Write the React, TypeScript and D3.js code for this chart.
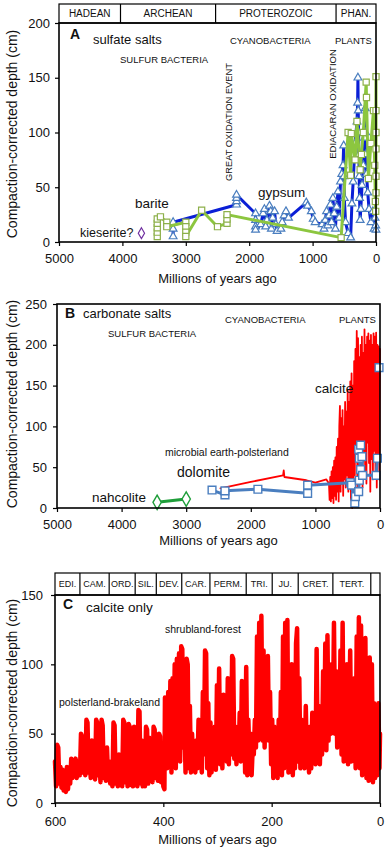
import React, { useEffect, useRef } from 'react';
import * as d3 from 'd3';

type Pt = [number, number];

const WIDTH = 387;
const HEIGHT = 850;
const FONT = '"Liberation Sans", Arial, sans-serif';

// Panel A: sulfate salts (age Ma, depth cm)
const eonNames = ['HADEAN', 'ARCHEAN', 'PROTEROZOIC', 'PHAN.'];
const eonBounds = [5000, 4030, 2530, 630, 0];
const deepTimeTicks = [5000, 4000, 3000, 2000, 1000, 0];
const ticksA = [0, 50, 100, 150, 200];

const gypsum: Pt[] = [
  [3200, 5], [3200, 12], [3200, 18],
  [2200, 34], [2200, 37], [2200, 40], [2200, 43],
  [1900, 26], [1900, 20], [1900, 14], [1900, 11],
  [1820, 16], [1780, 26], [1760, 30], [1740, 14], [1720, 20], [1680, 33], [1660, 28],
  [1650, 12], [1630, 22], [1600, 28], [1580, 16], [1560, 10], [1500, 12], [1480, 18],
  [1450, 24], [1420, 28], [1380, 22],
  [1100, 36], [1080, 33], [1020, 28], [990, 21], [960, 18],
  [850, 16], [820, 12], [800, 20], [780, 28], [760, 15], [740, 24], [720, 34], [700, 18],
  [680, 40], [660, 26], [640, 12], [620, 32], [600, 46], [580, 22], [560, 55], [540, 62],
  [520, 70], [510, 88], [505, 60], [500, 40], [480, 18], [440, 8], [400, 4], [380, 35],
  [360, 55], [330, 90], [300, 110], [290, 127], [285, 150], [280, 120], [275, 100],
  [270, 80], [265, 60], [260, 40], [250, 20], [240, 30], [220, 52], [200, 70], [180, 95],
  [170, 122], [165, 100], [160, 80], [150, 62], [130, 45], [110, 30], [80, 18], [50, 28],
  [30, 12], [15, 22], [5, 15], [0, 11]
];

const sulfate: Pt[] = [
  [3450, 5], [3450, 9], [3450, 13], [3450, 17], [3450, 21], [3400, 23], [3300, 18], [3300, 14],
  [3000, 18], [3000, 14], [3000, 9], [3000, 5], [2750, 29], [2500, 14], [2350, 17], [2350, 21],
  [2350, 25], [550, 4], [440, 100], [400, 61], [390, 99], [330, 75], [300, 110], [250, 66],
  [230, 80], [200, 100], [155, 146], [150, 132], [120, 58], [80, 90], [40, 120], [20, 70],
  [10, 37], [5, 28], [0, 151], [0, 120], [0, 100], [0, 85], [0, 60], [0, 45]
];

const kieserite: Pt[] = [[3700, 8]];

// Panel B: carbonate salts
const ticksB = [0, 50, 100, 150, 200, 250];
const nahcolite: Pt[] = [[3450, 7], [3000, 11]];
const dolomite: Pt[] = [
  [2600, 22], [2400, 16], [2400, 21], [1890, 23], [1120, 18], [1120, 28], [460, 31], [440, 28],
  [390, 6], [380, 14], [330, 20], [320, 34], [300, 47], [320, 61], [330, 72], [300, 77],
  [280, 63], [270, 40], [60, 40], [40, 61]
];
const dolomiteOutliers: Pt[] = [[15, 172]];
const calciteB: Pt[] = [
  [2470, 24], [2000, 32], [1500, 40], [1490, 46], [1480, 38], [1140, 34], [1000, 31], [830, 35],
  [790, 30], [780, 10], [770, 38], [760, 8], [750, 45], [740, 12], [730, 50], [720, 6], [710, 58],
  [700, 15], [690, 62], [680, 10], [670, 75], [660, 20], [650, 85], [640, 8], [630, 100],
  [620, 125], [610, 20], [600, 110], [590, 30], [580, 120], [570, 15], [560, 100], [550, 35],
  [540, 130], [530, 25], [520, 118], [510, 40], [500, 145], [490, 20], [480, 130], [470, 30],
  [460, 155], [450, 10], [440, 165], [430, 0], [420, 150], [410, 15], [400, 180], [390, 40],
  [380, 195], [370, 60], [360, 217], [350, 20], [340, 208], [330, 50], [320, 185], [310, 35],
  [300, 200], [290, 60], [280, 210], [270, 25], [260, 190], [250, 70], [240, 219], [230, 45],
  [220, 200], [210, 30], [200, 210], [190, 80], [180, 214], [170, 55], [160, 205], [150, 20],
  [140, 212], [130, 60], [120, 200], [110, 35], [100, 214], [90, 70], [80, 210], [70, 45],
  [60, 215], [50, 25], [40, 200], [30, 60], [20, 198], [10, 35], [0, 195]
];

// Panel C: calcite only, Phanerozoic
const periodNames = ['EDI.', 'CAM.', 'ORD.', 'SIL.', 'DEV.', 'CAR.', 'PERM.', 'TRI.', 'JU.', 'CRET.', 'TERT.', ''];
const periodBounds = [600, 554, 500, 452, 413, 366, 314, 247, 199, 151, 87, 17, 0];
const phanTicks = [600, 400, 200, 0];
const ticksC = [0, 50, 100, 150];
const calciteC: Pt[] = [
  [600, 30], [598, 12], [596, 42], [594, 40], [592, 14], [590, 26], [588, 11], [586, 24], [584, 9],
  [582, 22], [580, 8], [578, 26], [576, 10], [574, 24], [572, 14], [570, 32], [568, 18], [566, 30],
  [564, 20], [562, 32], [560, 18], [556, 30], [554, 20], [552, 50], [550, 48], [548, 22], [546, 32],
  [544, 20], [542, 60], [540, 58], [538, 22], [536, 30], [534, 18], [532, 45], [530, 20], [528, 28],
  [526, 17], [524, 60], [522, 58], [520, 20], [518, 30], [516, 15], [514, 60], [512, 56], [510, 18],
  [508, 28], [506, 16], [504, 40], [502, 18], [500, 30], [498, 14], [496, 28], [494, 12], [492, 58],
  [490, 56], [488, 14], [486, 30], [484, 12], [482, 35], [480, 14], [478, 28], [476, 12], [474, 60],
  [472, 58], [470, 15], [468, 30], [466, 12], [464, 57], [462, 55], [460, 13], [458, 38], [456, 12],
  [454, 55], [452, 14], [450, 28], [448, 12], [446, 67], [444, 66], [442, 14], [440, 45], [438, 12],
  [436, 30], [434, 12], [432, 55], [430, 53], [428, 14], [426, 47], [424, 16], [422, 30], [420, 15],
  [418, 55], [416, 53], [414, 18], [412, 30], [410, 16], [408, 50], [406, 48], [404, 15], [402, 28],
  [400, 12], [398, 10], [397, 76], [395, 75], [393, 25], [391, 80], [389, 30], [387, 88], [385, 22],
  [383, 90], [381, 35], [379, 100], [377, 25], [375, 104], [373, 40], [371, 108], [369, 30],
  [367, 113], [365, 111], [363, 40], [361, 60], [359, 22], [357, 104], [355, 100], [353, 25],
  [351, 70], [349, 22], [347, 50], [345, 30], [343, 40], [341, 22], [339, 45], [337, 25], [335, 60],
  [333, 30], [331, 40], [329, 22], [327, 80], [325, 35], [323, 110], [321, 108], [319, 25],
  [317, 72], [315, 20], [313, 58], [311, 22], [309, 40], [307, 25], [305, 55], [303, 24], [301, 85],
  [299, 30], [297, 97], [295, 28], [293, 65], [291, 25], [289, 78], [287, 40], [285, 55], [283, 30],
  [281, 90], [279, 28], [277, 70], [275, 35], [273, 106], [271, 104], [269, 32], [267, 55],
  [265, 28], [263, 45], [261, 32], [259, 65], [257, 30], [255, 88], [253, 35], [251, 80], [249, 22],
  [247, 98], [245, 20], [243, 60], [241, 30], [239, 50], [237, 20], [235, 40], [233, 35], [231, 60],
  [229, 40], [227, 120], [225, 45], [223, 130], [221, 50], [219, 135], [217, 45], [215, 110],
  [213, 40], [211, 90], [209, 50], [207, 106], [205, 45], [203, 80], [201, 28], [199, 60], [197, 18],
  [195, 55], [193, 25], [191, 45], [189, 18], [187, 60], [185, 25], [183, 80], [181, 20], [179, 120],
  [177, 25], [175, 130], [173, 30], [171, 132], [169, 22], [167, 90], [165, 25], [163, 100],
  [161, 20], [159, 50], [157, 25], [155, 115], [153, 126], [151, 30], [149, 90], [147, 25],
  [145, 60], [143, 35], [141, 50], [139, 25], [137, 70], [135, 30], [133, 45], [131, 22], [129, 55],
  [127, 25], [125, 65], [123, 30], [121, 50], [119, 28], [117, 111], [115, 30], [113, 70], [111, 28],
  [109, 60], [107, 35], [105, 95], [103, 40], [101, 115], [99, 38], [97, 121], [95, 45], [93, 85],
  [91, 50], [89, 100], [87, 55], [85, 130], [83, 50], [81, 95], [79, 40], [77, 70], [75, 45],
  [73, 110], [71, 35], [69, 130], [67, 30], [65, 80], [63, 35], [61, 100], [59, 28], [57, 60],
  [55, 110], [53, 30], [51, 70], [49, 35], [47, 90], [45, 25], [43, 120], [41, 30], [39, 134],
  [37, 25], [35, 128], [33, 20], [31, 105], [29, 30], [27, 119], [25, 18], [23, 60], [21, 16],
  [19, 105], [17, 20], [15, 100], [13, 15], [11, 72], [9, 18], [7, 70], [5, 20], [3, 72], [1, 25],
  [0, 50]
];

type Box = { left: number; right: number; top: number; bottom: number };

function drawFrame(svg: any, box: Box, xDom: number[], yDom: number[], xTicks: number[], yTicks: number[], padX: number, padY: number, titleY: number, ylabelY: number) {
  const x = d3.scaleLinear().domain(xDom).range([box.left, box.right]);
  const y = d3.scaleLinear().domain(yDom).range([box.bottom, box.top]);

  const ax = svg.append('g')
    .attr('transform', `translate(0,${box.bottom})`)
    .call(d3.axisBottom(x).tickValues(xTicks).tickSize(4).tickSizeOuter(0).tickPadding(padX).tickFormat(d3.format('d')));
  const ay = svg.append('g')
    .attr('transform', `translate(${box.left},0)`)
    .call(d3.axisLeft(y).tickValues(yTicks).tickSize(4).tickSizeOuter(0).tickPadding(padY));
  [ax, ay].forEach(a => {
    a.attr('font-size', 13).attr('font-family', FONT);
    a.selectAll('text').attr('fill', '#111');
    a.select('.domain').remove();
    a.selectAll('line').attr('stroke', '#000').attr('stroke-width', 1.2);
  });

  svg.append('text')
    .attr('x', (box.left + box.right) / 2)
    .attr('y', titleY)
    .attr('text-anchor', 'middle')
    .attr('font-family', FONT)
    .attr('font-size', 13)
    .attr('fill', '#111')
    .text('Millions of years ago');

  svg.append('text')
    .attr('transform', `translate(16.5,${ylabelY}) rotate(-90)`)
    .attr('text-anchor', 'middle')
    .attr('font-family', FONT)
    .attr('font-size', 14)
    .attr('fill', '#111')
    .text('Compaction-corrected depth (cm)');

  return { x, y };
}

function drawBorder(svg: any, box: Box) {
  svg.append('rect')
    .attr('x', box.left).attr('y', box.top)
    .attr('width', box.right - box.left).attr('height', box.bottom - box.top)
    .attr('fill', 'none').attr('stroke', '#000').attr('stroke-width', 1.6);
}

function drawHeader(svg: any, x: any, top: number, bottom: number, bounds: number[], names: string[], size: number) {
  const [l, r] = x.range();
  svg.append('rect')
    .attr('x', l).attr('y', top).attr('width', r - l).attr('height', bottom - top)
    .attr('fill', 'none').attr('stroke', '#000').attr('stroke-width', 1.2);
  svg.selectAll(null)
    .data(bounds.slice(1, -1))
    .enter()
    .append('line')
    .attr('x1', (d: number) => x(d)).attr('x2', (d: number) => x(d))
    .attr('y1', top).attr('y2', bottom)
    .attr('stroke', '#000').attr('stroke-width', 1.2);
  svg.selectAll(null)
    .data(names)
    .enter()
    .append('text')
    .attr('x', (d: string, i: number) => (x(bounds[i]) + x(bounds[i + 1])) / 2)
    .attr('y', (top + bottom) / 2 + size * 0.36)
    .attr('text-anchor', 'middle')
    .attr('font-family', FONT)
    .attr('font-size', size)
    .attr('fill', '#111')
    .text((d: string) => d);
}

function label(svg: any, xp: number, yp: number, txt: string, size: number, bold = false, rotate = false) {
  const t = svg.append('text')
    .attr('font-family', FONT)
    .attr('font-size', size)
    .attr('font-weight', bold ? 'bold' : 'normal')
    .attr('fill', '#111')
    .text(txt);
  if (rotate) {
    t.attr('transform', `translate(${xp},${yp}) rotate(-90)`).attr('text-anchor', 'middle');
  } else {
    t.attr('x', xp).attr('y', yp);
  }
}

function markers(svg: any, data: Pt[], x: any, y: any, type: any, size: number, stroke: string, sw = 1.2) {
  const sym = d3.symbol().type(type).size(size);
  svg.selectAll(null)
    .data(data)
    .enter()
    .append('path')
    .attr('d', sym as any)
    .attr('transform', (d: Pt) => `translate(${x(d[0])},${y(d[1])})`)
    .attr('fill', '#fff')
    .attr('stroke', stroke)
    .attr('stroke-width', sw);
}

function line(svg: any, data: Pt[], x: any, y: any, color: string, width: number) {
  const gen = d3.line<Pt>().x(d => x(d[0])).y(d => y(d[1]));
  svg.append('path')
    .attr('d', gen(data))
    .attr('fill', 'none')
    .attr('stroke', color)
    .attr('stroke-width', width)
    .attr('stroke-linejoin', 'round')
    .attr('stroke-linecap', 'round');
}

const App = () => {
  const svgRef = useRef<SVGSVGElement>(null);

  useEffect(() => {
    const svg = d3.select(svgRef.current);
    svg.selectAll('*').remove();

    // ---- Panel A ----
    const boxA = { left: 59, right: 376, top: 23, bottom: 242 };
    const A = drawFrame(svg, boxA, [5000, 0], [0, 200], deepTimeTicks, ticksA, 8, 5, 283, 134);
    drawHeader(svg, A.x, 4, 23, eonBounds, eonNames, 10);
    line(svg, gypsum, A.x, A.y, '#0a1fd6', 3);
    markers(svg, gypsum, A.x, A.y, d3.symbolTriangle, 26, '#4a7ebf');
    line(svg, sulfate, A.x, A.y, '#8cc63f', 3);
    markers(svg, sulfate, A.x, A.y, d3.symbolSquare, 38, '#8db04a');
    markers(svg, kieserite, A.x, A.y, d3.symbolDiamond, 34, '#7030a0');
    drawBorder(svg, boxA);
    label(svg, 70, 39, 'A', 14, true);
    label(svg, 93, 44, 'sulfate salts', 13);
    label(svg, 120, 63, 'SULFUR BACTERIA', 9.5);
    label(svg, 230, 44, 'CYANOBACTERIA', 9.5);
    label(svg, 335, 44, 'PLANTS', 9.5);
    label(svg, 232, 122, 'GREAT OXIDATION EVENT', 9.3, false, true);
    label(svg, 336, 104, 'EDIACARAN OXIDATION', 9.5, false, true);
    label(svg, 135, 208, 'barite', 13.5);
    label(svg, 258, 197, 'gypsum', 13.5);
    label(svg, 80, 237, 'kieserite?', 12.5);

    // ---- Panel B ----
    const boxB = { left: 57, right: 380, top: 304, bottom: 508 };
    const B = drawFrame(svg, boxB, [5000, 0], [0, 250], deepTimeTicks, ticksB, 8, 6, 545, 404);
    line(svg, calciteB, B.x, B.y, '#ff0000', 1.8);
    line(svg, nahcolite, B.x, B.y, '#1f9e3a', 3);
    markers(svg, nahcolite, B.x, B.y, d3.symbolDiamond, 60, '#1f9e3a', 1.4);
    line(svg, dolomite, B.x, B.y, '#4a7ebf', 3);
    markers(svg, dolomite, B.x, B.y, d3.symbolSquare, 60, '#4a7ebf', 1.4);
    markers(svg, dolomiteOutliers, B.x, B.y, d3.symbolSquare, 60, '#4a7ebf', 1.4);
    drawBorder(svg, boxB);
    label(svg, 65, 318, 'B', 14, true);
    label(svg, 83, 318, 'carbonate salts', 13);
    label(svg, 108, 337, 'SULFUR BACTERIA', 9.5);
    label(svg, 225, 323, 'CYANOBACTERIA', 9.5);
    label(svg, 339, 323, 'PLANTS', 9.5);
    label(svg, 315, 393, 'calcite', 13.5);
    label(svg, 165, 456, 'microbial earth-polsterland', 10.5);
    label(svg, 177, 477, 'dolomite', 14);
    label(svg, 92, 502, 'nahcolite', 13.5);

    // ---- Panel C ----
    const boxC = { left: 55, right: 380, top: 595, bottom: 803 };
    const C = drawFrame(svg, boxC, [600, 0], [0, 150], phanTicks, ticksC, 10, 8, 844, 703);
    drawHeader(svg, C.x, 573, 595, periodBounds, periodNames, 9);
    line(svg, calciteC, C.x, C.y, '#ff0000', 4.5);
    drawBorder(svg, boxC);
    label(svg, 63, 609, 'C', 14, true);
    label(svg, 86, 612, 'calcite only', 13.5);
    label(svg, 165, 633, 'shrubland-forest', 10.5);
    label(svg, 59, 706, 'polsterland-brakeland', 10.5);
  }, []);

  return (
    <svg
      ref={svgRef}
      width={WIDTH}
      height={HEIGHT}
      style={{ position: 'absolute', left: 0, top: 0, background: '#fff' }}
    />
  );
};

export default App;
